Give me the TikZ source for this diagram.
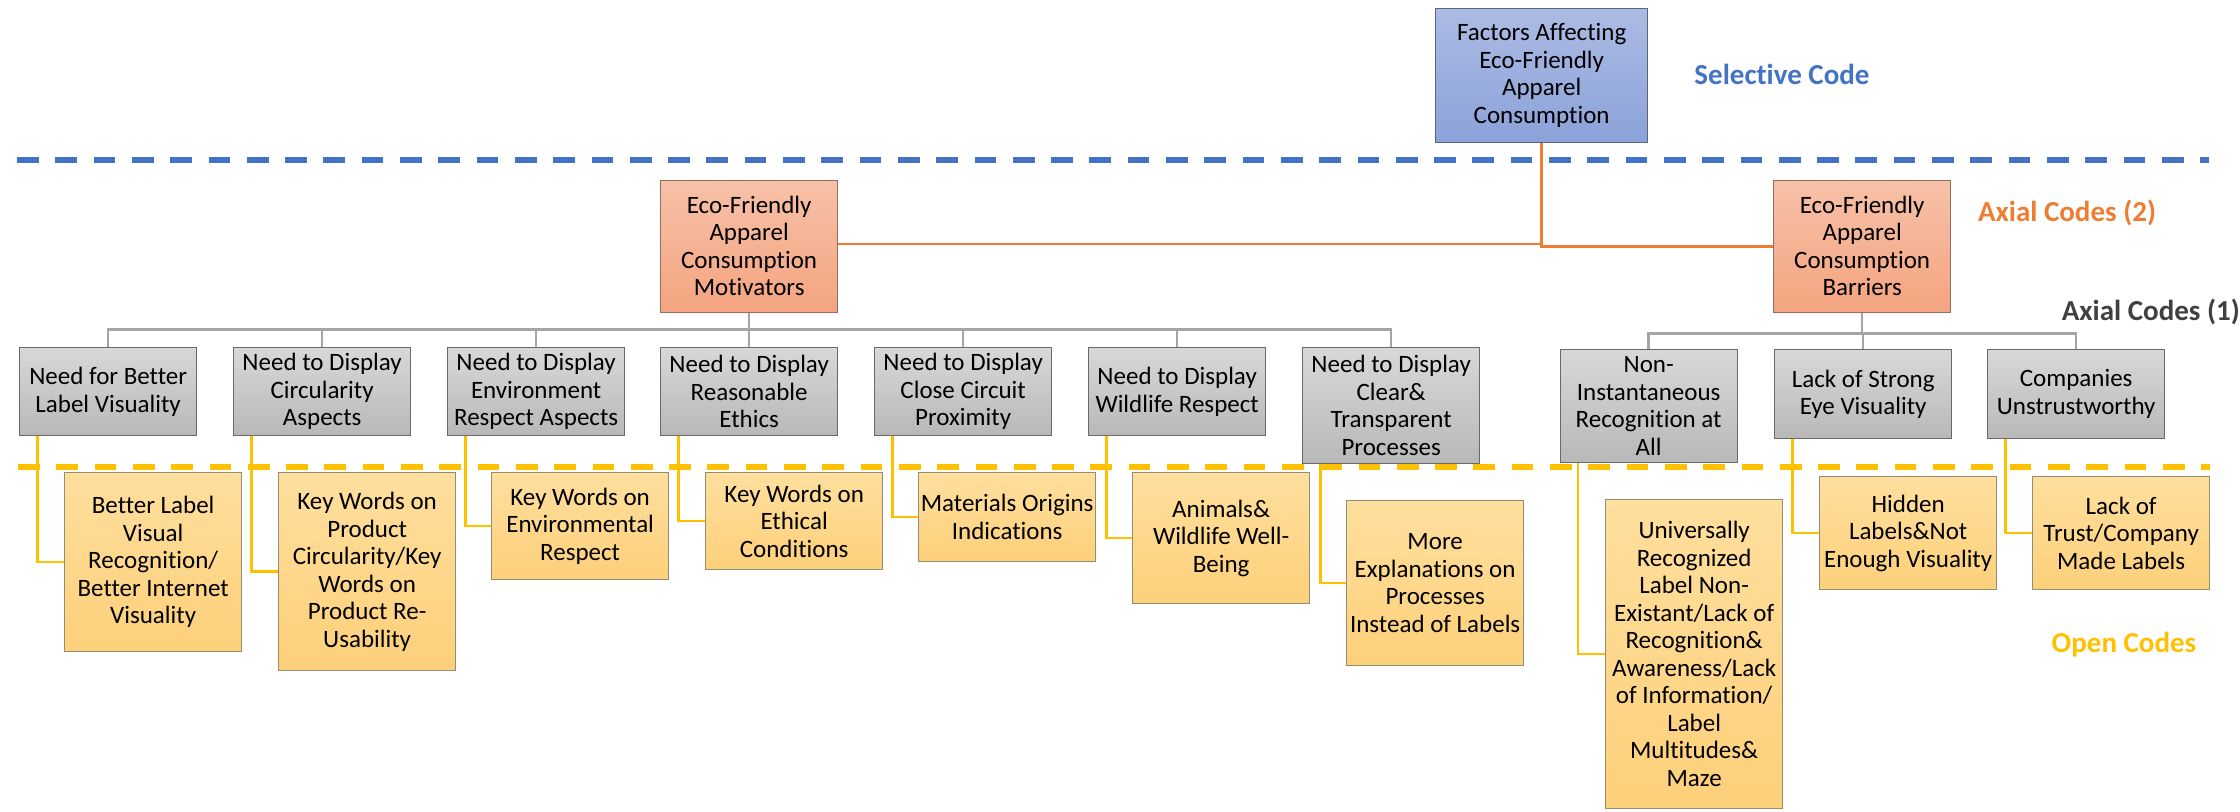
\documentclass[tikz,border=0pt]{standalone}
\usepackage{fontspec}
\setmainfont{Carlito}[Ligatures=NoCommon]
\definecolor{bluetop}{RGB}{172,187,227}
\definecolor{bluebot}{RGB}{139,162,217}
\definecolor{bluebd}{RGB}{88,100,130}
\definecolor{ortop}{RGB}{247,193,168}
\definecolor{orbot}{RGB}{244,164,128}
\definecolor{orbd}{RGB}{150,110,95}
\definecolor{grtop}{RGB}{216,216,216}
\definecolor{grbot}{RGB}{184,184,184}
\definecolor{grbd}{RGB}{105,105,105}
\definecolor{yetop}{RGB}{255,223,158}
\definecolor{yebot}{RGB}{253,208,122}
\definecolor{yebd}{RGB}{150,140,112}
\definecolor{selblue}{RGB}{68,114,196}
\definecolor{axorange}{RGB}{237,125,49}
\definecolor{axgray}{RGB}{64,64,64}
\definecolor{opyellow}{RGB}{255,192,0}
\definecolor{linegray}{RGB}{165,165,165}
\tikzset{
  box/.style={draw, rectangle, inner sep=0pt, align=center, anchor=north west,
    minimum width=177pt, line width=1.3pt, text=black,
    font=\fontsize{25}{27.5}\selectfont},
  selbox/.style={box, draw=bluebd, top color=bluetop, bottom color=bluebot},
  axbox/.style={box, draw=orbd, top color=ortop, bottom color=orbot},
  catbox/.style={box, draw=grbd, top color=grtop, bottom color=grbot},
  codebox/.style={box, draw=yebd, top color=yetop, bottom color=yebot},
  title/.style={font=\fontsize{29}{34}\selectfont\bfseries, inner sep=0pt},
  oline/.style={draw=axorange, line width=2.5pt},
  gline/.style={draw=linegray, line width=2.5pt},
  yline/.style={draw=opyellow, line width=2.5pt},
  divider/.style={line width=5.3pt, dash pattern=on 21.7pt off 16.6pt}
}
\begin{document}
\begin{tikzpicture}[x=1pt,y=-1pt]
\useasboundingbox (0,0) rectangle (2240,811);

% level dividers
\draw[divider, selblue] (17,160) -- (2209,160);
\draw[divider, opyellow] (18,467) -- (2210,467);

% selective code
\node[selbox, minimum width=212pt, minimum height=134pt] (sel) at (1435,8)
  {Factors Affecting\\Eco-Friendly\\Apparel\\Consumption};

% axial codes (2)
\node[axbox, minimum height=132pt] (mot) at (660,179.5)
  {Eco-Friendly\\Apparel\\Consumption\\Motivators};
\node[axbox, minimum height=132pt] (bar) at (1773,179.5)
  {Eco-Friendly\\Apparel\\Consumption\\Barriers};

% axial codes (1)
\node[catbox, minimum height=88pt] (c1) at (19,347) {Need for Better\\Label Visuality};
\node[catbox, minimum height=88pt] (c2) at (233,347) {Need to Display\\Circularity\\Aspects};
\node[catbox, minimum height=88pt] (c3) at (447,347) {Need to Display\\Environment\\Respect Aspects};
\node[catbox, minimum height=88pt] (c4) at (660,347) {Need to Display\\Reasonable\\Ethics};
\node[catbox, minimum height=88pt] (c5) at (874,347) {Need to Display\\Close Circuit\\Proximity};
\node[catbox, minimum height=88pt] (c6) at (1088,347) {Need to Display\\Wildlife Respect};
\node[catbox, minimum height=116pt] (c7) at (1302,347) {Need to Display\\Clear\&\\Transparent\\Processes};
\node[catbox, minimum height=113pt] (c8) at (1559.5,349) {Non-\\Instantaneous\\Recognition at\\All};
\node[catbox, minimum height=89pt] (c9) at (1774,349) {Lack of Strong\\Eye Visuality};
\node[catbox, minimum height=89pt] (c10) at (1987,349) {Companies\\Unstrustworthy};

% open codes
\node[codebox, minimum height=179pt] (o1) at (64,472) {Better Label\\Visual\\Recognition/\\Better Internet\\Visuality};
\node[codebox, minimum height=198pt] (o2) at (278,472) {Key Words on\\Product\\Circularity/Key\\Words on\\Product Re-\\Usability};
\node[codebox, minimum height=107pt] (o3) at (491,472) {Key Words on\\Environmental\\Respect};
\node[codebox, minimum height=97pt] (o4) at (705,472) {Key Words on\\Ethical\\Conditions};
\node[codebox, minimum height=89pt] (o5) at (918,472) {Materials Origins\\Indications};
\node[codebox, minimum height=131pt] (o6) at (1132,472) {Animals\&\\Wildlife Well-\\Being};
\node[codebox, minimum height=165pt] (o7) at (1346,500) {More\\Explanations on\\Processes\\Instead of Labels};
\node[codebox, minimum height=309pt] (o8) at (1605,499) {Universally\\Recognized\\Label Non-\\Existant/Lack of\\Recognition\&\\Awareness/Lack\\of Information/\\Label\\Multitudes\&\\Maze};
\node[codebox, minimum height=113pt] (o9) at (1819,476) {Hidden\\Labels\&Not\\Enough Visuality};
\node[codebox, minimum height=113pt] (o10) at (2032,476) {Lack of\\Trust/Company\\Made Labels};

% level titles
\node[title, text=selblue] (tsel) at (1782,74) {Selective Code};
\node[title, text=axorange] (tax2) at (2067,213) {Axial Codes (2)};
\node[title, text=axgray, anchor=east] (tax1) at (2240,312) {Axial Codes (1)};
\node[title, text=opyellow] (topen) at (2124,645) {Open Codes};

% connectors
\draw[oline] (sel.south) |- ([yshift=2pt]mot.east);
\draw[oline] (sel.south) |- ([yshift=-0.5pt]bar.west);
\foreach \i in {1,...,7}
  \draw[gline] (mot.south) -- ++(0,16.5) -| (c\i.north);
\foreach \i in {8,9,10}
  \draw[gline] (bar.south) -- ++(0,20.5) -| (c\i.north);
\foreach \i in {1,...,10}
  \draw[yline] ([xshift=18.5pt]c\i.south west) |- (o\i.west);
\end{tikzpicture}
\end{document}
